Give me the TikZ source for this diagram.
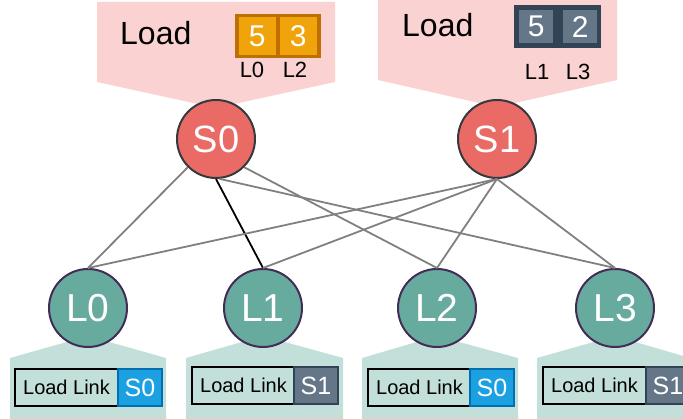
\documentclass[tikz,border=0pt]{standalone}
\usepackage{fontspec}
\setmainfont{Liberation Sans}
\definecolor{spinefill}{HTML}{EA6B66}
\definecolor{spineline}{HTML}{36393D}
\definecolor{leaffill}{HTML}{67AB9F}
\definecolor{leafline}{HTML}{432D57}
\definecolor{pinkbg}{HTML}{FAD2D2}
\definecolor{tealbg}{HTML}{C3DFDA}
\definecolor{orangefill}{HTML}{F0A30A}
\definecolor{orangeline}{HTML}{BD7000}
\definecolor{slatefill}{HTML}{647687}
\definecolor{slateline}{HTML}{314354}
\definecolor{bluefill}{HTML}{1BA1E2}
\definecolor{blueline}{HTML}{006EAF}
\definecolor{wire}{HTML}{808080}
\begin{document}
\begin{tikzpicture}[x=1pt,y=-1pt,
  spine/.style={circle, fill=spinefill, draw=spineline, line width=2pt,
    minimum size=78pt, inner sep=0pt, text=white, font=\fontsize{38}{40}\selectfont},
  leaf/.style={circle, fill=leaffill, draw=leafline, line width=2pt,
    minimum size=78pt, inner sep=0pt, text=white, font=\fontsize{39}{40}\selectfont},
  wirelink/.style={draw=wire, line width=1.8pt},
  usedlink/.style={draw=black, line width=1.8pt},
  loadword/.style={anchor=base west, inner sep=0pt, font=\fontsize{32}{34}\selectfont},
  orangecell/.style={fill=orangefill, draw=orangeline, line width=3.5pt, anchor=north west,
    minimum width=41pt, minimum height=41pt, inner sep=0pt, text=white,
    font=\fontsize{30}{32}\selectfont},
  slateframe/.style={fill=slateline, draw=none, anchor=north west, inner sep=0pt,
    minimum width=87pt, minimum height=43pt},
  slatecell/.style={fill=slatefill, draw=none, anchor=north west, inner sep=0pt,
    minimum width=34pt, minimum height=33pt, text=white, font=\fontsize{30}{32}\selectfont},
  smalllabel/.style={inner sep=0pt, font=\fontsize{22}{24}\selectfont},
  llbox/.style={fill=tealbg, draw=black, line width=2pt, anchor=north west,
    minimum width=103pt, minimum height=37pt, inner sep=0pt,
    font=\fontsize{20}{22}\selectfont},
  bluetag/.style={fill=bluefill, draw=blueline, line width=2pt, anchor=north west,
    minimum width=44pt, minimum height=37pt, inner sep=0pt, text=white,
    font=\fontsize{25}{27}\selectfont},
  slatetag/.style={fill=slatefill, draw=slateline, line width=2pt, anchor=north west,
    minimum width=44pt, minimum height=37pt, inner sep=0pt, text=white,
    font=\fontsize{25}{27}\selectfont}
]
\useasboundingbox (0,0) rectangle (683,419);

% callouts above the spines
\fill[pinkbg] (97,2) -- (335,2) -- (335,82) -- (216,108) -- (97,82) -- cycle;
\fill[pinkbg] (378,0) -- (617,0) -- (617,80) -- (497,107) -- (378,80) -- cycle;

% callouts below the leaves
\fill[tealbg] (10,358) -- (88,336) -- (166,358) -- (166,419) -- (10,419) -- cycle;
\fill[tealbg] (186,358) -- (263,336) -- (343,358) -- (343,419) -- (186,419) -- cycle;
\fill[tealbg] (362,358) -- (437,336) -- (518,358) -- (518,419) -- (362,419) -- cycle;
\fill[tealbg] (537,358) -- (615,336) -- (690,358) -- (690,419) -- (537,419) -- cycle;

% load counters of S0
\node[loadword] (load0) at (120,45) {Load};
\node[orangecell] (c0a) at (235,14) {5};
\node[orangecell] (c0b) at (276,14) {3};
\node[smalllabel] (t0a) at (252,70) {L0};
\node[smalllabel] (t0b) at (295,70) {L2};

% load counters of S1
\node[loadword] (load1) at (402,37) {Load};
\node[slateframe] (frame1) at (514,5) {};
\node[slatecell] (c1a) at (519,10) {5};
\node[slatecell] (c1b) at (563,10) {2};
\node[smalllabel] (t1a) at (537,72) {L1};
\node[smalllabel] (t1b) at (578,72) {L3};

% switches
\node[spine] (S0) at (216,139) {S0};
\node[spine] (S1) at (497,139) {S1};
\node[leaf] (L0) at (88,308) {L0};
\node[leaf] (L1) at (263,308) {L1};
\node[leaf] (L2) at (437,308) {L2};
\node[leaf] (L3) at (615,308) {L3};

% links
\draw[wirelink] (S0.225) -- (L0.north);
\draw[usedlink] (S0.south) -- (L1.north);
\draw[wirelink] (S0.-45) -- (L2.north);
\draw[wirelink] (S0.-85) -- (L3.north);
\draw[wirelink] (S1.south) -- (L0.north);
\draw[wirelink] (S1.south) -- (L1.north);
\draw[wirelink] (S1.south) -- (L2.north);
\draw[wirelink] (S1.south) -- (L3.north);

% link tables on the leaves
\node[llbox] (ll0) at (14,368) {Load Link};
\node[bluetag] (g0) at (117,368) {S0};
\node[llbox] (ll1) at (191,366) {Load Link};
\node[slatetag] (g1) at (293,366) {S1};
\node[llbox] (ll2) at (367,368) {Load Link};
\node[bluetag] (g2) at (469,368) {S0};
\node[llbox] (ll3) at (542,366) {Load Link};
\node[slatetag] (g3) at (645,366) {S1};
\end{tikzpicture}
\end{document}
